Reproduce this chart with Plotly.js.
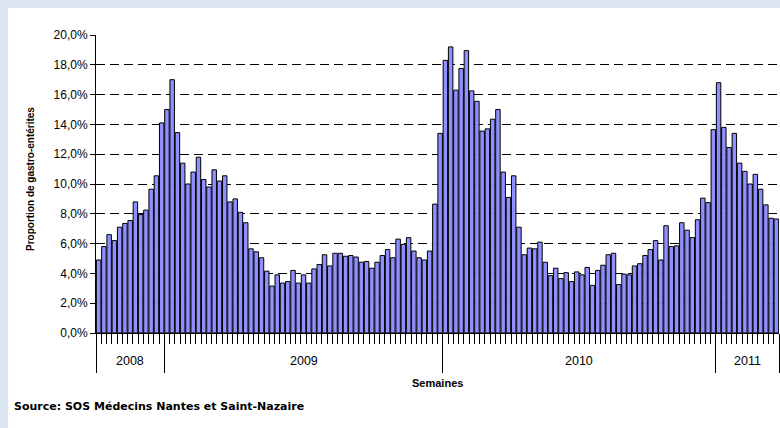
<!DOCTYPE html>
<html>
<head>
<meta charset="utf-8">
<script src="https://cdn.plot.ly/plotly-3.0.1.min.js"></script>
<style>html,body{margin:0;padding:0;background:#ffffff;overflow:hidden;}</style>
</head>
<body>
<div id="chart" style="width:780px;height:428px;"></div>
<script>
// ---- data ----
var years = ['2008', '2009', '2010', '2011'];
var val2008 = [4.9, 5.8, 6.6, 6.2, 7.1, 7.35, 7.55, 8.8, 7.95, 8.25, 9.65, 10.55, 14.1];
var val2009 = [15.0, 17.0, 13.45, 11.4, 10.0, 10.8, 11.8, 10.3, 9.8, 10.95, 10.2, 10.55, 8.8, 9.0, 8.1, 7.4,
  5.65, 5.45, 5.05, 4.15, 3.15, 3.9, 3.35, 3.45, 4.2, 3.35, 3.9, 3.35, 4.3, 4.6, 5.25, 4.5, 5.35, 5.35,
  5.15, 5.2, 5.1, 4.75, 4.8, 4.35, 4.75, 5.2, 5.6, 5.05, 6.3, 5.95, 6.4, 5.5, 5.05, 4.9, 5.5, 8.65, 13.4];
var val2010 = [18.3, 19.2, 16.3, 17.75, 18.95, 16.25, 15.55, 13.55, 13.7, 14.35, 15.0, 10.8, 9.1, 10.55,
  7.1, 5.25, 5.7, 5.65, 6.1, 4.75, 3.85, 4.35, 3.65, 4.05, 3.45, 4.1, 3.9, 4.4, 3.2, 4.2, 4.55, 5.25,
  5.35, 3.25, 3.95, 3.9, 4.5, 4.65, 5.2, 5.6, 6.2, 4.9, 7.2, 5.8, 5.85, 7.4, 6.9, 6.4, 7.6, 9.05, 8.75, 13.65];
var val2011 = [16.8, 13.8, 12.45, 13.4, 11.4, 10.85, 10.0, 10.65, 9.65, 8.6, 7.7, 7.65];
var yTickVals = [0, 2, 4, 6, 8, 10, 12, 14, 16, 18, 20];
var yTickText = ['0,0%', '2,0%', '4,0%', '6,0%', '8,0%', '10,0%', '12,0%', '14,0%', '16,0%', '18,0%', '20,0%'];
var yTitle = 'Proportion de gastro-entérites';
var xTitle = 'Semaines';
var sourceText = 'Source: SOS Médecins Nantes et Saint-Nazaire';

// ---- build ----
var groups = [val2008, val2009, val2010, val2011];
var values = [].concat(val2008, val2009, val2010, val2011);
var xs = values.map(function (v, i) { return i + 1; });
var n = values.length;

var bounds = [0.5];
var centers = [];
var acc = 0;
groups.forEach(function (g) {
  centers.push(acc + 0.5 + g.length / 2);
  acc += g.length;
  bounds.push(acc + 0.5);
});

var W = 780, H = 428;
var M = {l: 96, r: 1, t: 35, b: 95};
var PW = W - M.l - M.r, PH = H - M.t - M.b;
function px2x(px) { return (px - M.l) / PW; }
function py2y(py) { return (H - M.b - py) / PH; }

var font = 'Liberation Sans, Arial, sans-serif';
var wideFont = 'DejaVu Sans, Liberation Sans, sans-serif';
var frameColor = '#dbe5f1';

var traces = [
  {
    type: 'bar', x: xs, y: values,
    marker: {color: '#8f8fff', line: {color: '#000000', width: 1}},
    hoverinfo: 'skip'
  },
  {
    type: 'scatter', mode: 'markers', x: bounds, y: bounds.map(function () { return 0; }),
    xaxis: 'x2', yaxis: 'y', marker: {opacity: 0}, hoverinfo: 'skip', showlegend: false
  }
];

var annotations = [];
years.forEach(function (yr, i) {
  annotations.push({
    text: yr, xref: 'x', yref: 'paper', x: centers[i], y: py2y(361),
    xanchor: 'center', yanchor: 'middle', showarrow: false,
    font: {family: font, size: 12.5, color: '#000'}
  });
});
annotations.push({
  text: '<b>' + xTitle + '</b>', xref: 'paper', yref: 'paper', x: px2x(437), y: py2y(383),
  xanchor: 'center', yanchor: 'middle', showarrow: false,
  font: {family: font, size: 11, color: '#000'}
});
annotations.push({
  text: '<b>' + yTitle + '</b>', xref: 'paper', yref: 'paper', x: px2x(30), y: py2y(179),
  xanchor: 'center', yanchor: 'middle', showarrow: false, textangle: -90,
  font: {family: font, size: 10, color: '#000'}
});
annotations.push({
  text: '<b>' + sourceText + '</b>', xref: 'paper', yref: 'paper', x: px2x(12), y: py2y(406),
  xanchor: 'left', yanchor: 'middle', showarrow: false,
  font: {family: wideFont, size: 11, color: '#000'}
});

var layout = {
  width: W, height: H,
  margin: M,
  paper_bgcolor: '#ffffff',
  plot_bgcolor: 'rgba(0,0,0,0)',
  showlegend: false,
  bargap: 0.15,
  shapes: [
    {
      type: 'rect', xref: 'paper', yref: 'paper', layer: 'below',
      x0: px2x(-5), x1: px2x(8), y0: py2y(440), y1: py2y(-5),
      fillcolor: frameColor, line: {width: 0}
    },
    {
      type: 'rect', xref: 'paper', yref: 'paper', layer: 'below',
      x0: px2x(-5), x1: px2x(790), y0: py2y(8), y1: py2y(-5),
      fillcolor: frameColor, line: {width: 0}
    }
  ],
  xaxis: {
    range: [0.5, n + 0.5], tickmode: 'linear', tick0: 0.5, dtick: 1,
    ticks: 'outside', ticklen: 10, tickwidth: 1, tickcolor: '#000',
    showticklabels: false, showgrid: false, zeroline: false,
    showline: true, linecolor: '#000', linewidth: 1, fixedrange: true
  },
  xaxis2: {
    overlaying: 'x', anchor: 'y', side: 'bottom',
    range: [0.5, n + 0.5], tickmode: 'array', tickvals: bounds,
    ticks: 'outside', ticklen: 39, tickwidth: 1, tickcolor: '#000',
    showticklabels: false, showgrid: false, zeroline: false, showline: false
  },
  yaxis: {
    range: [0, 20], tickmode: 'array', tickvals: yTickVals, ticktext: yTickText,
    ticks: 'outside', ticklen: 5, tickwidth: 1, tickcolor: '#000',
    tickfont: {family: font, size: 12, color: '#000'},
    showgrid: true, gridcolor: '#000', gridwidth: 1, griddash: '9px,5px',
    zeroline: false, showline: true, linecolor: '#000', linewidth: 1, fixedrange: true
  },
  annotations: annotations
};

Plotly.newPlot('chart', traces, layout, {staticPlot: true, displayModeBar: false});
</script>
</body>
</html>
